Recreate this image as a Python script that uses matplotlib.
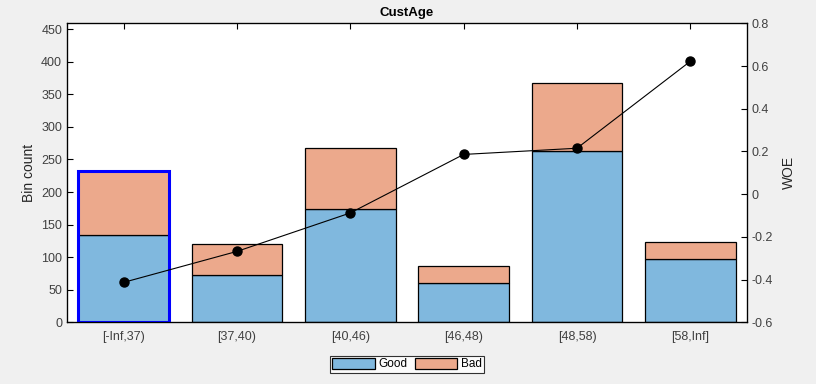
import numpy as np
import matplotlib.pyplot as plt

plt.rcParams['font.family'] = ['Liberation Sans', 'DejaVu Sans']

bins = ['[-Inf,37)', '[37,40)', '[40,46)', '[46,48)', '[48,58)', '[58,Inf]']
good = [134, 72, 174, 60, 263, 97]
bad = [99, 48, 94, 26, 104, 26]
woe = [-0.413, -0.268, -0.088, 0.186, 0.215, 0.622]

fig = plt.figure(figsize=(8.16, 3.84), dpi=100, facecolor='#f0f0f0')
ax = fig.add_axes([0.0821, 0.1607, 0.8333, 0.7786])
x = np.arange(1, len(bins) + 1)

b1 = ax.bar(x, good, width=0.8, color='#80b8de', edgecolor='black', linewidth=0.9, label='Good', zorder=2)
b2 = ax.bar(x, bad, bottom=good, width=0.8, color='#eca98c', edgecolor='black', linewidth=0.9, label='Bad', zorder=2)

# first bin is highlighted (selected)
sel = plt.Rectangle((x[0] - 0.4, 0), 0.8, good[0] + bad[0], fill=False, edgecolor='#0000ff', linewidth=2.2, zorder=3)
ax.add_patch(sel)

ax.set_xlim(0.5, 6.5)
ax.set_ylim(0, 459)
ax.set_yticks(np.arange(0, 451, 50))
ax.set_xticks(x)
ax.set_xticklabels(bins)
ax.set_ylabel('Bin count', fontsize=10, color='#262626')
ax.set_title('CustAge', fontsize=9.5, fontweight='bold', color='#000000', pad=5)
ax.tick_params(axis='both', direction='in', labelsize=9, labelcolor='#404040', length=4, width=0.8)
ax.tick_params(axis='x', top=True, pad=6)
for s in ax.spines.values():
    s.set_linewidth(0.9)

ax2 = ax.twinx()
ax2.plot(x, woe, color='black', linewidth=0.8, marker='o', markersize=6.5, zorder=4)
ax2.set_ylim(-0.6, 0.8)
ax2.set_yticks(np.round(np.arange(-0.6, 0.81, 0.2), 1))
ax2.set_yticklabels(['-0.6', '-0.4', '-0.2', '0', '0.2', '0.4', '0.6', '0.8'])
ax2.set_ylabel('WOE', fontsize=10, color='#262626', rotation=90, labelpad=6)
ax2.tick_params(axis='y', direction='in', labelsize=9, labelcolor='#404040', length=4, width=0.8)

leg = ax.legend(handles=[b1, b2], loc='upper center', bbox_to_anchor=(0.5, -0.112), ncol=2,
                fontsize=8.5, frameon=True, fancybox=False, edgecolor='black',
                handlelength=3.6, handleheight=1.0, handletextpad=0.3, columnspacing=0.6,
                borderpad=0.2, borderaxespad=0)
leg.get_frame().set_linewidth(0.8)

fig.savefig('out.png', dpi=100, facecolor=fig.get_facecolor())
